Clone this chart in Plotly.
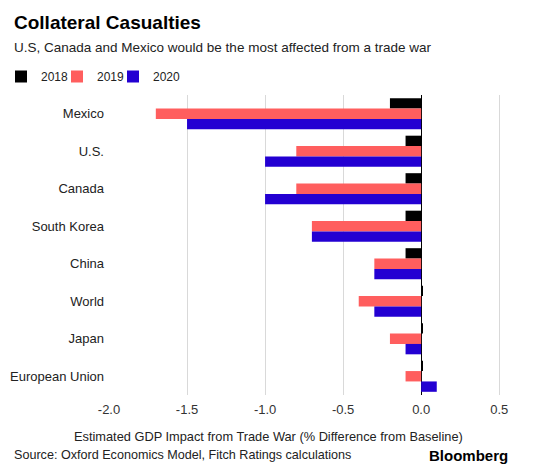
import plotly.graph_objects as go

categories = ["Mexico", "U.S.", "Canada", "South Korea", "China", "World", "Japan", "European Union"]
years = ["2018", "2019", "2020"]
v2018 = [-0.2, -0.1, -0.1, -0.1, -0.1, 0.01, 0.01, 0.01]
v2019 = [-1.7, -0.8, -0.8, -0.7, -0.3, -0.4, -0.2, -0.1]
v2020 = [-1.5, -1.0, -1.0, -0.7, -0.3, -0.3, -0.1, 0.1]
xticks = [-2.0, -1.5, -1.0, -0.5, 0.0, 0.5]
xticklabels = ["-2.0", "-1.5", "-1.0", "-0.5", "0.0", "0.5"]

colors = ["#000000", "#ff5e5e", "#2300d2"]
W, H = 560, 469
ML, MR, MT, MB = 109, 53, 95, 74
PW, PH = W - ML - MR, H - MT - MB
FONT = "Liberation Sans, Arial, sans-serif"

def px(x):
    return (x - ML) / PW

def py(y):
    return (H - MB - y) / PH

fig = go.Figure()
for yr, vals, c in zip(years, [v2018, v2019, v2020], colors):
    fig.add_trace(go.Bar(y=categories, x=vals, name=yr, orientation="h",
                         marker=dict(color=c, line=dict(width=0))))
# invisible spacer entry so the last legend label is not clipped
fig.add_trace(go.Scatter(x=[None], y=[None], name=" ", mode="markers",
                         marker=dict(color="rgba(0,0,0,0)"), hoverinfo="skip"))

fig.update_layout(
    width=W, height=H,
    margin=dict(l=ML, r=MR, t=MT, b=MB, autoexpand=False),
    paper_bgcolor="white", plot_bgcolor="white",
    barmode="group", bargap=0.17, bargroupgap=0,
    font=dict(family=FONT, color="#222222", size=13),
    showlegend=True,
    legend=dict(orientation="h", xref="container", yref="container",
                x=1 / W, y=1 - 62 / H, xanchor="left", yanchor="top",
                font=dict(size=12, color="#222"), itemwidth=30,
                entrywidth=11, entrywidthmode="pixels",
                traceorder="normal"),
    xaxis=dict(range=[-2.0, 0.55], tickvals=xticks, ticktext=xticklabels,
               showgrid=True, gridcolor="#d9d9d9", gridwidth=1,
               zeroline=True, zerolinecolor="#000000", zerolinewidth=1,
               showline=False, ticks="", ticklabelstandoff=5,
               tickfont=dict(size=13, color="#333")),
    yaxis=dict(autorange="reversed", showgrid=False, zeroline=False,
               showline=False, ticks="", ticklabelstandoff=4,
               tickfont=dict(size=13, color="#222")),
    title=dict(text="<b>Collateral Casualties</b>", xref="container", yref="container",
               x=14 / W, y=1 - 22 / H, xanchor="left", yanchor="middle",
               font=dict(size=19, color="#000", family=FONT)),
)

ann = [
    dict(text="U.S, Canada and Mexico would be the most affected from a trade war",
         x=px(12), y=py(48), xanchor="left", yanchor="middle", font=dict(size=13.5, color="#222")),
    dict(text="Estimated GDP Impact from Trade War (% Difference from Baseline)",
         x=px(268), y=py(436), xanchor="center", yanchor="middle", font=dict(size=12.8, color="#222")),
    dict(text="Source: Oxford Economics Model, Fitch Ratings calculations",
         x=px(12), y=py(455), xanchor="left", yanchor="middle", font=dict(size=12.6, color="#222")),
    dict(text="<b>Bloomberg</b>",
         x=px(510), y=py(455), xanchor="right", yanchor="middle", font=dict(size=15, color="#000")),
]
for a in ann:
    a.update(xref="paper", yref="paper", showarrow=False)
fig.update_layout(annotations=ann)

fig.write_html("out.html", config={"displayModeBar": False},
               post_script="document.body.style.margin='0';")
